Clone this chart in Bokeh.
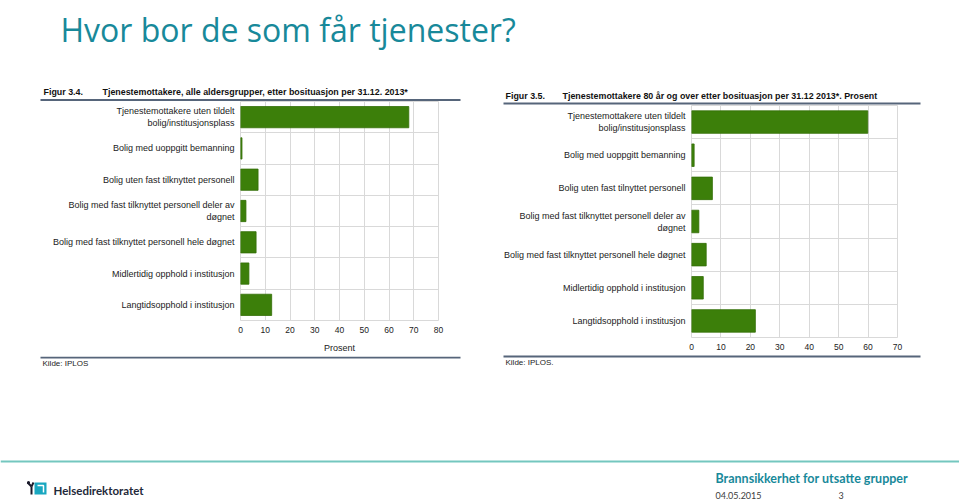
from bokeh.plotting import figure
from bokeh.layouts import column, row
from bokeh.models import Range1d, FixedTicker
from bokeh.core.properties import value
from bokeh.embed import file_html
from bokeh.resources import INLINE

# ---------------- data ----------------
slide_title = "Hvor bor de som får tjenester?"

fig1_number = "Figur 3.4."
fig1_title = "Tjenestemottakere, alle aldersgrupper, etter bosituasjon per 31.12. 2013*"
fig1_categories = [
    "Tjenestemottakere uten tildelt\nbolig/institusjonsplass",
    "Bolig med uoppgitt bemanning",
    "Bolig uten fast tilknyttet personell",
    "Bolig med fast tilknyttet personell deler av\ndøgnet",
    "Bolig med fast tilknyttet personell hele døgnet",
    "Midlertidig opphold i institusjon",
    "Langtidsopphold i institusjon",
]
fig1_values = [68.0, 0.6, 7.1, 2.2, 6.3, 3.4, 12.6]
fig1_ticks = [0, 10, 20, 30, 40, 50, 60, 70, 80]
fig1_xlabel = "Prosent"
fig1_source = "Kilde: IPLOS"

fig2_number = "Figur 3.5."
fig2_title = "Tjenestemottakere 80 år og over etter bosituasjon per 31.12 2013*. Prosent"
fig2_categories = [
    "Tjenestemottakere uten tildelt\nbolig/institusjonsplass",
    "Bolig med uoppgitt bemanning",
    "Bolig uten fast tilnyttet personell",
    "Bolig med fast tilknyttet personell deler av\ndøgnet",
    "Bolig med fast tilknyttet personell hele døgnet",
    "Midlertidig opphold i institusjon",
    "Langtidsopphold i institusjon",
]
fig2_values = [59.9, 0.9, 7.1, 2.5, 5.0, 4.0, 21.7]
fig2_ticks = [0, 10, 20, 30, 40, 50, 60, 70]
fig2_source = "Kilde: IPLOS."

footer_org = "Helsedirektoratet"
footer_topic = "Brannsikkerhet for utsatte grupper"
footer_date = "04.05.2015"
footer_page = "3"

# ---------------- styles ----------------
TEAL = "#18899a"
GREEN = "#3c7f0a"
GREEN_EDGE = "#336e08"
GRID = "#d9d9d9"
RULE = "#56657a"
ARIAL_NAME = "Liberation Sans"
ARIAL = value(ARIAL_NAME)
TITLE_FONT = value("Open Sans")
FOOT_FONT = value("Lato")


def canvas(w, h):
    p = figure(width=w, height=h, x_range=Range1d(0, w), y_range=Range1d(h, 0),
               x_axis_type=None, y_axis_type=None, toolbar_location=None,
               output_backend="svg", min_border=0, frame_align=False)
    p.outline_line_color = None
    p.background_fill_color = "white"
    p.border_fill_color = "white"
    return p


def header(w, h, number, title, num_x, title_x, text_y, rule_x0, rule_x1, rule_y):
    p = canvas(w, h)
    p.text(x=[num_x, title_x], y=[text_y, text_y], text=[number, title],
           text_font=ARIAL, text_font_size="8.9px", text_font_style="bold",
           text_baseline="middle", text_align="left", text_color="#111111")
    p.line(x=[rule_x0, rule_x1], y=[rule_y, rule_y], line_width=2, line_color=RULE)
    return p


def footer(w, h, src, src_x, src_y, rule_x0, rule_x1, rule_y):
    p = canvas(w, h)
    p.line(x=[rule_x0, rule_x1], y=[rule_y, rule_y], line_width=2, line_color=RULE)
    p.text(x=[src_x], y=[src_y], text=[src], text_font=ARIAL, text_font_size="8px",
           text_baseline="middle", text_align="left", text_color="#222222")
    return p


def bar_chart(cats, vals, ticks, w, h, left, right, bottom, xlabel=None, standoff=6):
    n = len(cats)
    pos = list(range(n))
    p = figure(width=w, height=h, x_range=Range1d(ticks[0], ticks[-1]),
               y_range=Range1d(n - 0.5, -0.5), toolbar_location=None,
               output_backend="svg", min_border_left=left, min_border_right=right,
               min_border_top=0, min_border_bottom=bottom, frame_align=False)
    p.outline_line_color = GRID
    p.background_fill_color = "white"
    p.border_fill_color = "white"
    p.hbar(y=pos, left=0, right=vals, height=0.68, fill_color=GREEN,
           line_color=GREEN_EDGE, line_width=0.8)

    p.xaxis.ticker = FixedTicker(ticks=ticks)
    p.xgrid.ticker = FixedTicker(ticks=ticks)
    p.xgrid.grid_line_color = GRID
    p.yaxis.ticker = FixedTicker(ticks=pos)
    p.yaxis.major_label_overrides = {i: c for i, c in zip(pos, cats)}
    p.ygrid.ticker = FixedTicker(ticks=[i + 0.5 for i in pos])
    p.ygrid.grid_line_color = GRID

    for ax in (p.xaxis[0], p.yaxis[0]):
        ax.axis_line_color = None
        ax.major_tick_line_color = None
        ax.minor_tick_line_color = None
        ax.major_tick_out = 0
        ax.major_tick_in = 0
        ax.major_label_text_font = ARIAL_NAME
        ax.major_label_text_color = "#222222"
    p.xaxis.major_label_text_font_size = "8.5px"
    p.xaxis.major_label_standoff = standoff
    p.yaxis.major_label_text_font_size = "9px"
    p.yaxis.major_label_standoff = 6
    if xlabel:
        p.xaxis.axis_label = xlabel
        p.xaxis.axis_label_text_font = ARIAL_NAME
        p.xaxis.axis_label_text_font_size = "9px"
        p.xaxis.axis_label_text_font_style = "normal"
        p.xaxis.axis_label_text_color = "#222222"
        p.xaxis.axis_label_standoff = 7
    return p


# ---------------- title (page y 0..70) ----------------
title_fig = canvas(959, 70)
title_fig.text(x=[60], y=[29], text=[slide_title], text_font=TITLE_FONT,
               text_font_size="32px", text_baseline="alphabetic", text_align="left",
               text_color=TEAL)

# ---------------- left chart column (page x 0..480, y 70..380) ----------------
head1 = header(480, 31, fig1_number, fig1_title, 43, 102, 21, 40, 460, 29.5)
chart1 = bar_chart(fig1_categories, fig1_values, fig1_ticks, 480, 255, 240, 42, 36,
                   xlabel=fig1_xlabel)
foot1 = footer(480, 24, fig1_source, 42, 7, 40, 460, 1)
col1 = column(head1, chart1, foot1, spacing=0)

# ---------------- right chart column (page x 480..959) ----------------
head2 = header(479, 35, fig2_number, fig2_title, 25, 82, 25, 23, 440, 33)
chart2 = bar_chart(fig2_categories, fig2_values, fig2_ticks, 479, 249, 211, 62, 17)
foot2 = footer(479, 26, fig2_source, 25, 8, 23, 440, 2)
col2 = column(head2, chart2, foot2, spacing=0)

# ---------------- slide footer (page y 380..500) ----------------
foot = canvas(959, 120)
foot.line(x=[0, 959], y=[81, 81], line_width=2, line_color="#74c7bf")
foot.quad(left=[34], right=[46], top=[102], bottom=[114], fill_color="#19a7c0", line_color=None)
foot.line(x=[37, 43, 43], y=[105, 105, 112], line_width=1.5, line_color="white")
foot.segment(x0=[27, 33, 31], y0=[102, 102, 106], x1=[31, 31, 31], y1=[106, 106, 114],
             line_width=2, line_color="#1a1a2a")
foot.circle(x=[28], y=[102], radius=1.6, fill_color="#1a1a2a", line_color=None)
foot.text(x=[53], y=[110], text=[footer_org], text_font=FOOT_FONT, text_font_size="11.5px",
          text_font_style="bold", text_baseline="middle", text_align="left",
          text_color="#1f2a3a")
foot.text(x=[715], y=[98], text=[footer_topic], text_font=FOOT_FONT, text_font_size="12.5px",
          text_font_style="bold", text_baseline="middle", text_align="left", text_color=TEAL)
foot.text(x=[715, 838], y=[115, 115], text=[footer_date, footer_page], text_font=FOOT_FONT,
          text_font_size="9px", text_baseline="middle", text_align="left",
          text_color="#404040")

page = column(title_fig, row(col1, col2, spacing=0), foot, spacing=0)

open("out.html", "w").write(file_html(page, INLINE))
